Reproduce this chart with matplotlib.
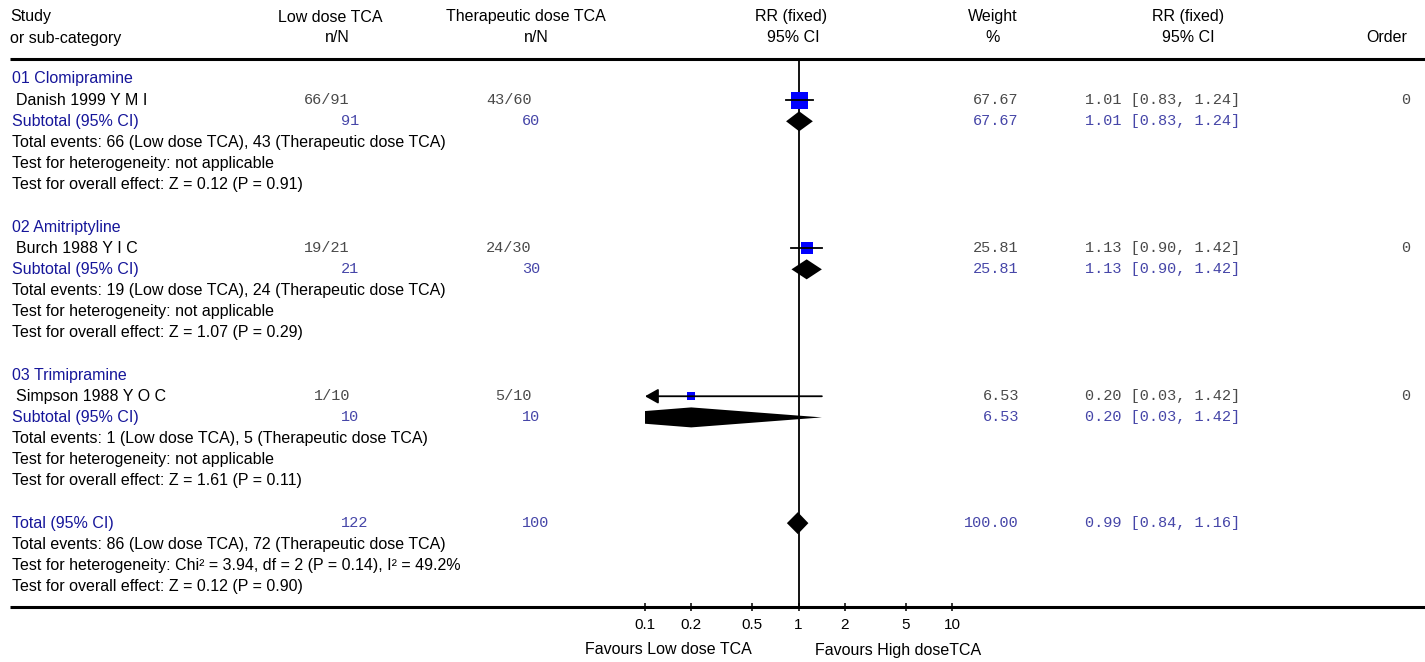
import numpy as np
import matplotlib
matplotlib.use("Agg")
import matplotlib.pyplot as plt

# data
groups = ["01 Clomipramine", "02 Amitriptyline", "03 Trimipramine"]
studies = ["Danish 1999 Y M I", "Burch 1988 Y I C", "Simpson 1988 Y O C"]
low_n = [66, 19, 1]
low_N = [91, 21, 10]
ther_n = [43, 24, 5]
ther_N = [60, 30, 10]
weights = [67.67, 25.81, 6.53]
rr = [1.01, 1.13, 0.20]
rr_lo = [0.83, 0.90, 0.03]
rr_hi = [1.24, 1.42, 1.42]
z_vals = [0.12, 1.07, 1.61]
p_vals = [0.91, 0.29, 0.11]
order = [0, 0, 0]

total_low_N, total_ther_N = 122, 100
total_low_n, total_ther_n = 86, 72
total_weight = 100.00
total_rr, total_lo, total_hi = 0.99, 0.84, 1.16
total_chi2, total_df, total_p_het, total_i2 = 3.94, 2, 0.14, 49.2
total_z, total_p = 0.12, 0.90

xticks = [0.1, 0.2, 0.5, 1, 2, 5, 10]
xtick_labels = ["0.1", "0.2", "0.5", "1", "2", "5", "10"]

# style
W, H = 1425, 662
SANS = "Liberation Sans"
MONO = "Liberation Mono"
FS = 11.5
MFS = 11
BLUE_TXT = "#16169a"
BLUE_NUM = "#4646a8"
GRAY_NUM = "#4a4a4a"

fig = plt.figure(figsize=(W / 100, H / 100), dpi=100)
ax = fig.add_axes([0, 0, 1, 1])
ax.set_xlim(0, W)
ax.set_ylim(H, 0)
ax.axis("off")

TOP, BOT = 59, 607
X_LO, X_HI = 645, 952
fa = fig.add_axes([X_LO / W, 1 - BOT / H, (X_HI - X_LO) / W, (BOT - TOP) / H])
fa.set_xscale("log")
fa.set_xlim(0.1, 10)
fa.set_ylim(BOT, TOP)
fa.patch.set_alpha(0)
for s in fa.spines.values():
    s.set_visible(False)
fa.set_yticks([])
fa.set_xticks(xticks)
fa.set_xticklabels(xtick_labels, fontfamily=SANS)
fa.minorticks_off()
fa.tick_params(axis="x", direction="inout", length=6, width=1.1, pad=5, labelsize=11)


def row_y(r):
    return 79 + 21.15 * r


def sans(x, y, s, color="black", ha="left"):
    ax.text(x, y, s, fontsize=FS, family=SANS, color=color, ha=ha, va="center")


def mono(x, y, s, color=GRAY_NUM, ha="left"):
    ax.text(x, y, s, fontsize=MFS, family=MONO, color=color, ha=ha, va="center")


def diamond(est, lo, hi, y, half=10):
    fa.fill([lo, est, hi, est], [y, y - half, y, y + half], color="black", lw=0, zorder=3)


# headers
for x, t1, t2, ha in [(10, "Study", "or sub-category", "left"),
                      (330, "Low dose TCA", None, "center"),
                      (526, "Therapeutic dose TCA", None, "center"),
                      (791, "RR (fixed)", None, "center"),
                      (993, "Weight", "%", "center"),
                      (1188, "RR (fixed)", "95% CI", "center")]:
    sans(x, 17, t1, ha=ha)
    if t2:
        sans(x, 38, t2, ha=ha)
sans(337, 38, "n/N", ha="center")
sans(536, 38, "n/N", ha="center")
sans(793, 38, "95% CI", ha="center")
sans(1407, 38, "Order", ha="right")

ax.plot([10, W], [TOP, TOP], color="black", lw=2.2, solid_capstyle="butt")
ax.plot([10, W], [BOT, BOT], color="black", lw=2.2, solid_capstyle="butt")
fa.axvline(1, color="black", lw=1.3, zorder=1)

max_w = max(weights)
for i in range(len(studies)):
    r0 = 7 * i
    y_g, y_s, y_sub = row_y(r0), row_y(r0 + 1), row_y(r0 + 2)
    sans(12, y_g, groups[i], color=BLUE_TXT)
    sans(16, y_s, studies[i])
    mono(350, y_s, f"{low_n[i]}/{low_N[i]}", ha="right")
    mono(532, y_s, f"{ther_n[i]}/{ther_N[i]}", ha="right")
    mono(1019, y_s, f"{weights[i]:.2f}", ha="right")
    mono(1085, y_s, f"{rr[i]:.2f} [{rr_lo[i]:.2f}, {rr_hi[i]:.2f}]")
    mono(1410, y_s, str(order[i]), ha="right")

    sans(12, y_sub, "Subtotal (95% CI)", color=BLUE_TXT)
    mono(341, y_sub, str(low_N[i]), color=BLUE_NUM)
    mono(522, y_sub, str(ther_N[i]), color=BLUE_NUM)
    mono(1019, y_sub, f"{weights[i]:.2f}", color=BLUE_NUM, ha="right")
    mono(1085, y_sub, f"{rr[i]:.2f} [{rr_lo[i]:.2f}, {rr_hi[i]:.2f}]", color=BLUE_NUM)

    sans(12, row_y(r0 + 3), f"Total events: {low_n[i]} (Low dose TCA), {ther_n[i]} (Therapeutic dose TCA)")
    sans(12, row_y(r0 + 4), "Test for heterogeneity: not applicable")
    sans(12, row_y(r0 + 5), f"Test for overall effect: Z = {z_vals[i]:.2f} (P = {p_vals[i]:.2f})")

    # study marker
    side = 4 + 13 * np.sqrt(weights[i] / max_w)
    fa.plot(rr[i], y_s, marker="s", ms=side * 0.72, color="#0000ff", mec="#0000ff", mew=0, zorder=2)
    if rr_lo[i] < 0.1:
        fa.annotate("", xy=(0.1, y_s), xytext=(rr_hi[i], y_s),
                    arrowprops=dict(arrowstyle="-|>,head_length=0.8,head_width=0.45",
                                    color="black", lw=1.3, shrinkA=0, shrinkB=0),
                    annotation_clip=False, zorder=3)
    else:
        fa.plot([rr_lo[i], rr_hi[i]], [y_s, y_s], color="black", lw=1.3, zorder=3)
    diamond(rr[i], rr_lo[i], rr_hi[i], y_sub)

# overall
y_t = row_y(21)
sans(12, y_t, "Total (95% CI)", color=BLUE_TXT)
mono(341, y_t, str(total_low_N), color=BLUE_NUM)
mono(522, y_t, str(total_ther_N), color=BLUE_NUM)
mono(1019, y_t, f"{total_weight:.2f}", color=BLUE_NUM, ha="right")
mono(1085, y_t, f"{total_rr:.2f} [{total_lo:.2f}, {total_hi:.2f}]", color=BLUE_NUM)
sans(12, row_y(22), f"Total events: {total_low_n} (Low dose TCA), {total_ther_n} (Therapeutic dose TCA)")
sans(12, row_y(23), f"Test for heterogeneity: Chi² = {total_chi2:.2f}, df = {total_df} "
                    f"(P = {total_p_het:.2f}), I² = {total_i2:.1f}%")
sans(12, row_y(24), f"Test for overall effect: Z = {total_z:.2f} (P = {total_p:.2f})")
diamond(total_rr, total_lo, total_hi, y_t, half=11)

sans(752, 650, "Favours Low dose TCA", ha="right")
sans(815, 650, "Favours High doseTCA")

fig.savefig("out.png", dpi=100)
